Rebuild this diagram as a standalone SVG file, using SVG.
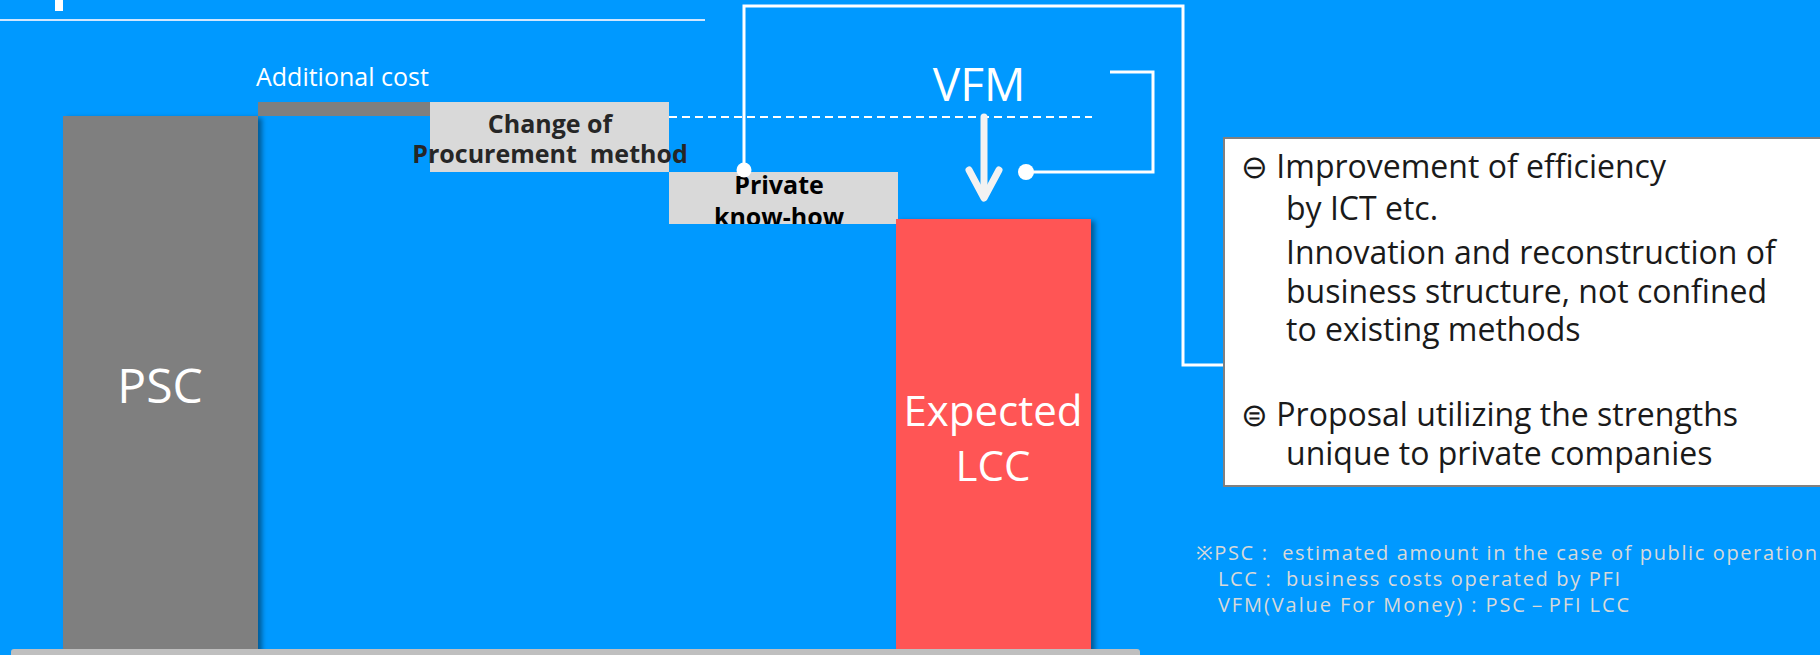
<svg xmlns="http://www.w3.org/2000/svg" width="1820" height="655" viewBox="0 0 1820 655">
  <defs>
    <style>
      .bg { fill: #0099ff; }
      .bar-label { font-family: "Open Sans", "Noto Sans", sans-serif; fill: #ffffff; text-anchor: middle; }
      .step { fill: #d9d9d9; }
      .step-label { font-family: "Open Sans", "Noto Sans", sans-serif; font-weight: bold; font-size: 25px; text-anchor: middle; }
      .wire { fill: none; stroke: #ffffff; stroke-width: 3; }
      .note { font-family: "Open Sans", "Noto Sans", sans-serif; font-size: 32px; fill: #1a1a1a; }
      .foot { font-family: "Open Sans", "Noto Sans", sans-serif; font-size: 20px; fill: #d9d9d9; }
    </style>
    <filter id="shadow" x="-10%" y="-5%" width="130%" height="115%">
      <feDropShadow dx="4" dy="2" stdDeviation="2.5" flood-color="#000000" flood-opacity="0.4"/>
    </filter>
    <clipPath id="clip-knowhow">
      <rect x="669" y="172" width="229" height="52"/>
    </clipPath>
  </defs>

  <!-- background -->
  <rect class="bg" x="0" y="0" width="1820" height="655"/>

  <!-- header rule and title fragment -->
  <rect x="55" y="0" width="8" height="11" fill="#ffffff"/>
  <line x1="0" y1="20" x2="705" y2="20" stroke="#cfe6ff" stroke-width="2"/>

  <!-- PSC bar -->
  <g id="psc">
    <rect x="63" y="116" width="195" height="540" fill="#7f7f7f" filter="url(#shadow)"/>
    <text class="bar-label" x="160" y="403" font-size="48">PSC</text>
  </g>

  <!-- additional cost step -->
  <g id="additional-cost">
    <rect x="258" y="102" width="172" height="14" fill="#7f7f7f"/>
    <text x="256" y="86" font-family="Open Sans, Noto Sans, sans-serif" font-size="25" fill="#ffffff">Additional cost</text>
  </g>

  <!-- change of procurement method step -->
  <g id="procurement">
    <rect class="step" x="430" y="102" width="239" height="70"/>
    <text class="step-label" fill="#262626" x="550" y="133">Change of</text>
    <text class="step-label" fill="#262626" x="550" y="163" xml:space="preserve">Procurement  method</text>
  </g>

  <!-- private know-how step -->
  <g id="know-how">
    <rect class="step" x="669" y="172" width="229" height="52"/>
    <g clip-path="url(#clip-knowhow)">
      <text class="step-label" fill="#000000" x="779" y="194" font-size="23">Private</text>
      <text class="step-label" fill="#000000" x="779" y="226" font-size="23">know-how</text>
    </g>
  </g>

  <!-- expected LCC bar -->
  <g id="lcc">
    <rect x="896" y="219" width="195" height="440" fill="#ff5555" filter="url(#shadow)"/>
    <text class="bar-label" x="993" y="426" font-size="42">Expected</text>
    <text class="bar-label" x="993" y="481" font-size="42">LCC</text>
  </g>

  <!-- VFM label -->
  <g id="vfm">
    <text x="979" y="101" font-family="Open Sans, Noto Sans, sans-serif" font-size="46" fill="#ffffff" text-anchor="middle">VFM</text>
  </g>

  <!-- connectors -->
  <g id="connectors">
    <line x1="669" y1="117" x2="1092" y2="117" stroke="#ffffff" stroke-width="2" stroke-dasharray="8 5"/>
    <path class="wire" d="M744,170 V6 H1183 V365 H1224"/>
    <circle cx="744" cy="170" r="7.5" fill="#ffffff"/>
    <path class="wire" stroke-width="3.5" d="M1110,72 H1153 V172 H1026"/>
    <circle cx="1026" cy="172" r="8" fill="#ffffff"/>
    <g stroke="#f2f2f2" stroke-width="7" stroke-linecap="round" stroke-linejoin="round" fill="none">
      <line x1="984" y1="117" x2="984" y2="196"/>
      <polyline points="969,170 984,198 999,170"/>
    </g>
  </g>

  <!-- explanation box -->
  <g id="effects">
    <rect x="1224" y="138" width="600" height="348" fill="#ffffff" stroke="#808080" stroke-width="2"/>
    <text class="note" x="1241" y="178">⊖ Improvement of efficiency</text>
    <text class="note" x="1286" y="220">by ICT etc.</text>
    <text class="note" x="1286" y="264">Innovation and reconstruction of</text>
    <text class="note" x="1286" y="303">business structure, not confined</text>
    <text class="note" x="1286" y="341">to existing methods</text>
    <text class="note" x="1241" y="426">⊜ Proposal utilizing the strengths</text>
    <text class="note" x="1286" y="465">unique to private companies</text>
  </g>

  <!-- footnote -->
  <g id="footnote">
    <text class="foot" x="1196" y="560" textLength="621" lengthAdjust="spacing" xml:space="preserve">※PSC :  estimated amount in the case of public operation</text>
    <text class="foot" x="1218" y="586" textLength="402" lengthAdjust="spacing" xml:space="preserve">LCC :  business costs operated by PFI</text>
    <text class="foot" x="1218" y="612" textLength="411" lengthAdjust="spacing">VFM(Value For Money) : PSC－PFI LCC</text>
  </g>

  <!-- base line -->
  <rect x="11" y="649" width="1129" height="10" rx="3" fill="#bfbfbf"/>
</svg>
